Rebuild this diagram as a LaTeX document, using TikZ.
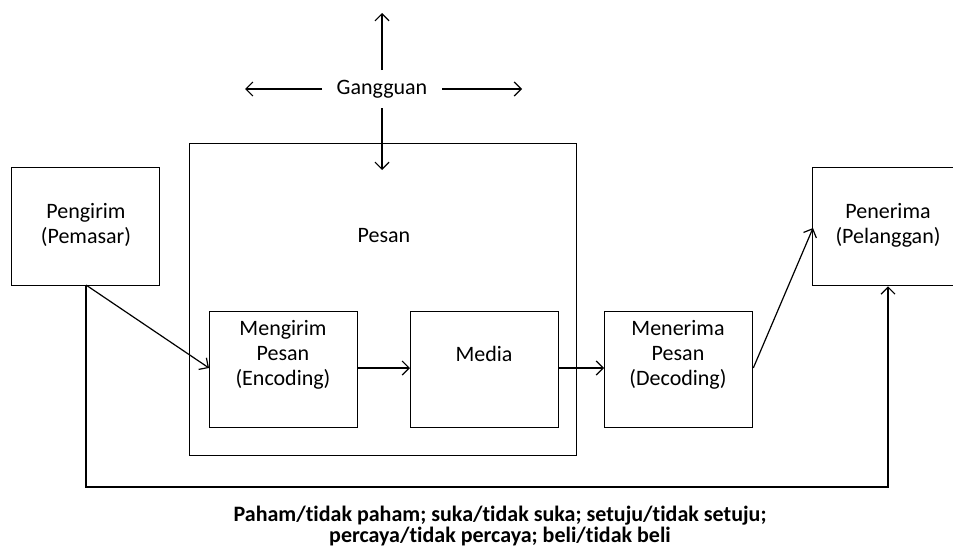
\documentclass[tikz,border=0pt]{standalone}
\usepackage{fontspec}
\setmainfont[Ligatures=NoCommon]{Carlito}
\usetikzlibrary{arrows.meta}
\begin{document}
\begin{tikzpicture}[x=1pt,y=-1pt,
  box/.style={draw, line width=1.3pt, inner sep=0pt, anchor=north west},
  lbl/.style={font=\fontsize{22}{25}\selectfont, align=center, inner sep=0pt},
  arr/.style={line width=1.2pt, -{Straight Barb[length=7pt,width=14pt,line width=1.2pt]}}]
\useasboundingbox (0,0) rectangle (953,549);
% boxes
\node[box, minimum width=148pt, minimum height=118pt] (peng) at (11,167) {};
\node[box, minimum width=387pt, minimum height=312pt] (pesan) at (189,143) {};
\node[box, minimum width=148pt, minimum height=116pt] (enc) at (209,311) {};
\node[box, minimum width=148pt, minimum height=116pt] (media) at (410,311) {};
\node[box, minimum width=148pt, minimum height=116pt] (dec) at (604,311) {};
\node[box, minimum width=160pt, minimum height=118pt] (pener) at (812,167) {};
% labels
\node[lbl] (tpeng) at (86,225) {Pengirim\\(Pemasar)};
\node[lbl] (tpesan) at (384,236) {Pesan};
\node[lbl] (tenc) at (283,355) {Mengirim\\Pesan\\(Encoding)};
\node[lbl] (tmedia) at (484,354) {Media};
\node[lbl] (tdec) at (678,355) {Menerima\\Pesan\\(Decoding)};
\node[lbl] (tpener) at (888,225) {Penerima\\(Pelanggan)};
\node[lbl] (gang) at (382,89) {Gangguan};
\node[lbl, font=\bfseries\fontsize{22}{21}\selectfont] (fb) at (500,526) {Paham/tidak paham; suka/tidak suka; setuju/tidak setuju;\\percaya/tidak percaya; beli/tidak beli};
% gangguan arrows
\coordinate (gu) at (382,13);
\coordinate (gl) at (245,89);
\coordinate (gr) at (522,89);
\coordinate (gd) at (382,170);
\coordinate (gus) at (382,70);
\coordinate (gls) at (322,89);
\coordinate (grs) at (442,89);
\coordinate (gds) at (382,108);
\draw[arr] (gus) -- (gu);
\draw[arr] (gls) -- (gl);
\draw[arr] (grs) -- (gr);
\draw[arr] (gds) -- (gd);
% flow
\coordinate (ps) at (86,285);
\coordinate (pin) at (813,228);
\draw[arr] (ps) -- (enc.west |- 0,368);
\draw[arr] (enc.east |- 0,368) -- (media.west |- 0,368);
\draw[arr] (media.east |- 0,368) -- (dec.west |- 0,368);
\draw[arr] (dec.east |- 0,368) -- (pin);
% feedback
\draw[arr] (ps) -- (86,487) -- (888,487) -- (pener.south west -| 888,0);
\end{tikzpicture}
\end{document}
